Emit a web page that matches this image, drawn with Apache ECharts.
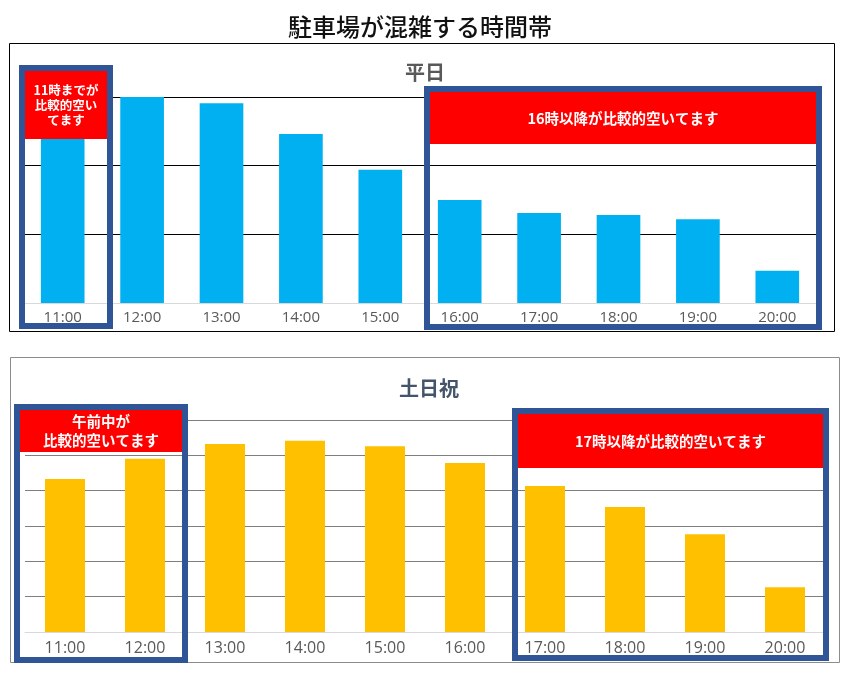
<!DOCTYPE html>
<html>
<head>
<meta charset="utf-8">
<script src="https://cdn.jsdelivr.net/npm/echarts@6/dist/echarts.min.js"></script>
<style>
html,body{margin:0;padding:0;background:#fff;}
#chart{width:848px;height:674px;}
</style>
</head>
<body>
<div id="chart"></div>
<script>
// ---- data ----
const categories = ['11:00','12:00','13:00','14:00','15:00','16:00','17:00','18:00','19:00','20:00'];
const weekdayValues = [250, 300, 291, 246, 194, 150, 131, 128, 122, 47];
const holidayValues = [4.33, 4.90, 5.32, 5.41, 5.26, 4.78, 4.13, 3.54, 2.77, 1.27];
const weekdayTicks = { min: 0, max: 300, interval: 100 };
const holidayTicks = { min: 0, max: 6, interval: 1 };
const mainTitle = '駐車場が混雑する時間帯';
const weekdayTitle = '平日';
const holidayTitle = '土日祝';
const notes = ['11時までが\n比較的空い\nてます', '16時以降が比較的空いてます', '午前中が\n比較的空いてます', '17時以降が比較的空いてます'];

const FONT = '"Noto Sans CJK JP", "Noto Sans", sans-serif';
const LABEL_FONT = '"Open Sans", "Noto Sans", sans-serif';
const BOX = '#2F5597';
const RED = '#FF0000';

function noteBox(outer, redH, text, fontSize, lineHeight) {
  const bw = 6;
  const [x1, y1, x2, y2] = outer;
  const ix = x1 + bw, iy = y1 + bw, iw = x2 - x1 - 2 * bw;
  return {
    type: 'group', z: 100,
    children: [
      { type: 'rect', z: 100, shape: { x: x1 + bw / 2, y: y1 + bw / 2, width: x2 - x1 - bw, height: y2 - y1 - bw },
        style: { fill: null, stroke: BOX, lineWidth: bw } },
      { type: 'rect', z: 101, shape: { x: ix, y: iy, width: iw, height: redH }, style: { fill: RED } },
      { type: 'text', z: 102, x: ix + iw / 2, y: iy + redH / 2,
        style: { text: text, fill: '#fff', font: 'bold ' + fontSize + 'px ' + FONT,
          align: 'center', verticalAlign: 'middle', lineHeight: lineHeight } }
    ]
  };
}

const chart = echarts.init(document.getElementById('chart'), null, { renderer: 'canvas' });
chart.setOption({
  animation: false,
  backgroundColor: '#fff',
  title: [
    { text: mainTitle, left: 415, top: 10, textAlign: 'center',
      textStyle: { fontFamily: FONT, fontSize: 24, fontWeight: 500, color: '#111' } },
    { text: weekdayTitle, left: 420, top: 57, textAlign: 'center',
      textStyle: { fontFamily: FONT, fontSize: 20, fontWeight: 'bold', color: '#595959' } },
    { text: holidayTitle, left: 424, top: 373, textAlign: 'center',
      textStyle: { fontFamily: FONT, fontSize: 20, fontWeight: 'bold', color: '#44546A' } }
  ],
  grid: [
    { left: 23, right: 31, top: 97, bottom: 371 },
    { left: 25, right: 23, top: 420, bottom: 42 }
  ],
  xAxis: [
    { type: 'category', gridIndex: 0, data: categories,
      axisLine: { lineStyle: { color: '#D9D9D9' } }, axisTick: { show: false },
      axisLabel: { fontFamily: LABEL_FONT, fontSize: 15, color: '#595959', margin: 7 } },
    { type: 'category', gridIndex: 1, data: categories,
      axisLine: { lineStyle: { color: '#D9D9D9' } }, axisTick: { show: false },
      axisLabel: { fontFamily: LABEL_FONT, fontSize: 16, color: '#595959', margin: 8 } }
  ],
  yAxis: [
    { type: 'value', gridIndex: 0, min: weekdayTicks.min, max: weekdayTicks.max, interval: weekdayTicks.interval,
      axisLabel: { show: false }, axisLine: { show: false }, axisTick: { show: false },
      splitLine: { showMinLine: false, lineStyle: { color: '#000', width: 1 } } },
    { type: 'value', gridIndex: 1, min: holidayTicks.min, max: holidayTicks.max, interval: holidayTicks.interval,
      axisLabel: { show: false }, axisLine: { show: false }, axisTick: { show: false },
      splitLine: { showMinLine: false, lineStyle: { color: '#7F7F7F', width: 1 } } }
  ],
  series: [
    { type: 'bar', xAxisIndex: 0, yAxisIndex: 0, data: weekdayValues, barWidth: '55%',
      itemStyle: { color: '#00B0F0' }, z: 2 },
    { type: 'bar', xAxisIndex: 1, yAxisIndex: 1, data: holidayValues, barWidth: '50%',
      itemStyle: { color: '#FFC000' }, z: 2 }
  ],
  graphic: [
    { type: 'rect', z: 50, shape: { x: 9.5, y: 43.5, width: 825, height: 288 },
      style: { fill: null, stroke: '#000', lineWidth: 1 } },
    { type: 'rect', z: 50, shape: { x: 10.5, y: 357.5, width: 829, height: 305 },
      style: { fill: null, stroke: '#8C8C8C', lineWidth: 1 } },
    noteBox([19, 65, 113, 329], 68, notes[0], 12.5, 15),
    noteBox([424, 86, 822, 330], 52, notes[1], 14.5, 18),
    noteBox([14, 404, 188, 663], 42, notes[2], 14.5, 19),
    noteBox([512, 408, 829, 661], 54, notes[3], 14.5, 18)
  ]
});
</script>
</body>
</html>
